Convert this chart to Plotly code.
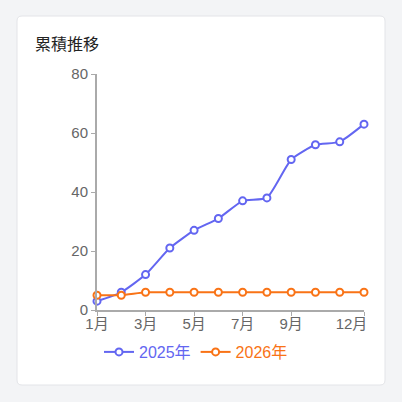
import plotly.graph_objects as go

months = ["1月", "2月", "3月", "4月", "5月", "6月", "7月", "8月", "9月", "10月", "11月", "12月"]
series_2025 = [3, 6, 12, 21, 27, 31, 37, 38, 51, 56, 57, 63]
series_2026 = [5, 5, 6, 6, 6, 6, 6, 6, 6, 6, 6, 6]
x_tick_labels = ["1月", "3月", "5月", "7月", "9月", "12月"]
y_ticks = [0, 20, 40, 60, 80]

W = H = 402
C1 = "#6366f1"
C2 = "#f97316"
BG = "#f3f4f6"
FONT = "Liberation Sans, Noto Sans CJK JP, sans-serif"


def px(x):
    return x / W


def py(y):
    return 1 - y / H


fig = go.Figure()
for name, vals, col in [("2025年", series_2025, C1), ("2026年", series_2026, C2)]:
    fig.add_trace(go.Scatter(
        x=months, y=vals, mode="lines+markers",
        name=f"<span style='color:{col}'>{name}</span>",
        line=dict(color=col, width=2, shape="spline", smoothing=0.5),
        marker=dict(size=7, color="white", line=dict(color=col, width=2)),
        cliponaxis=False,
    ))

# card background with rounded corners
x0, x1, y0, y1, r = 17, 385, 16, 385, 5
path = (f"M {px(x0+r)} {py(y0)} L {px(x1-r)} {py(y0)} Q {px(x1)} {py(y0)} {px(x1)} {py(y0+r)} "
        f"L {px(x1)} {py(y1-r)} Q {px(x1)} {py(y1)} {px(x1-r)} {py(y1)} "
        f"L {px(x0+r)} {py(y1)} Q {px(x0)} {py(y1)} {px(x0)} {py(y1-r)} "
        f"L {px(x0)} {py(y0+r)} Q {px(x0)} {py(y0)} {px(x0+r)} {py(y0)} Z")
fig.add_shape(type="path", path=path, xref="paper", yref="paper",
              fillcolor="white", line=dict(color="#e3e4e8", width=1), layer="below")

fig.add_annotation(text="累積推移", x=px(33), y=py(45), xref="paper", yref="paper",
                   xanchor="left", yanchor="middle", showarrow=False,
                   font=dict(size=16, color="#222", family=FONT))

# last label is kept inside the axis end (as in the original), via trailing no-break spaces
tick_text = x_tick_labels[:-1] + [x_tick_labels[-1] + "\u00a0" * 6]

fig.update_layout(
    width=W, height=H,
    margin=dict(l=0, r=0, t=0, b=0, autoexpand=False),
    paper_bgcolor=BG, plot_bgcolor="rgba(0,0,0,0)",
    font=dict(family=FONT, size=15, color="#666"),
    showlegend=True,
    legend=dict(orientation="h", x=px(196), xanchor="center", y=py(352), yanchor="middle",
                font=dict(size=16), itemwidth=30, bgcolor="rgba(0,0,0,0)"),
    xaxis=dict(domain=[px(97), px(364)], range=[0, len(months) - 1], type="category",
               tickmode="array", tickvals=x_tick_labels, ticktext=tick_text,
               showline=True, linecolor="#aaa", linewidth=2, ticks="outside",
               ticklen=4, tickcolor="#aaa", showgrid=False, zeroline=False,
               ticklabelstandoff=-5,
               automargin=False, tickfont=dict(size=15, color="#666")),
    yaxis=dict(domain=[py(310), py(74)], range=[0, 80], tickvals=y_ticks,
               showline=True, linecolor="#aaa", linewidth=2, ticks="outside",
               ticklen=4, tickcolor="#aaa", showgrid=False, zeroline=False,
               automargin=False, tickfont=dict(size=15, color="#666")),
)

fig.write_html(
    "out.html",
    config={"displayModeBar": False},
    post_script="document.body.style.margin='0';document.body.style.background='%s';" % BG,
)
